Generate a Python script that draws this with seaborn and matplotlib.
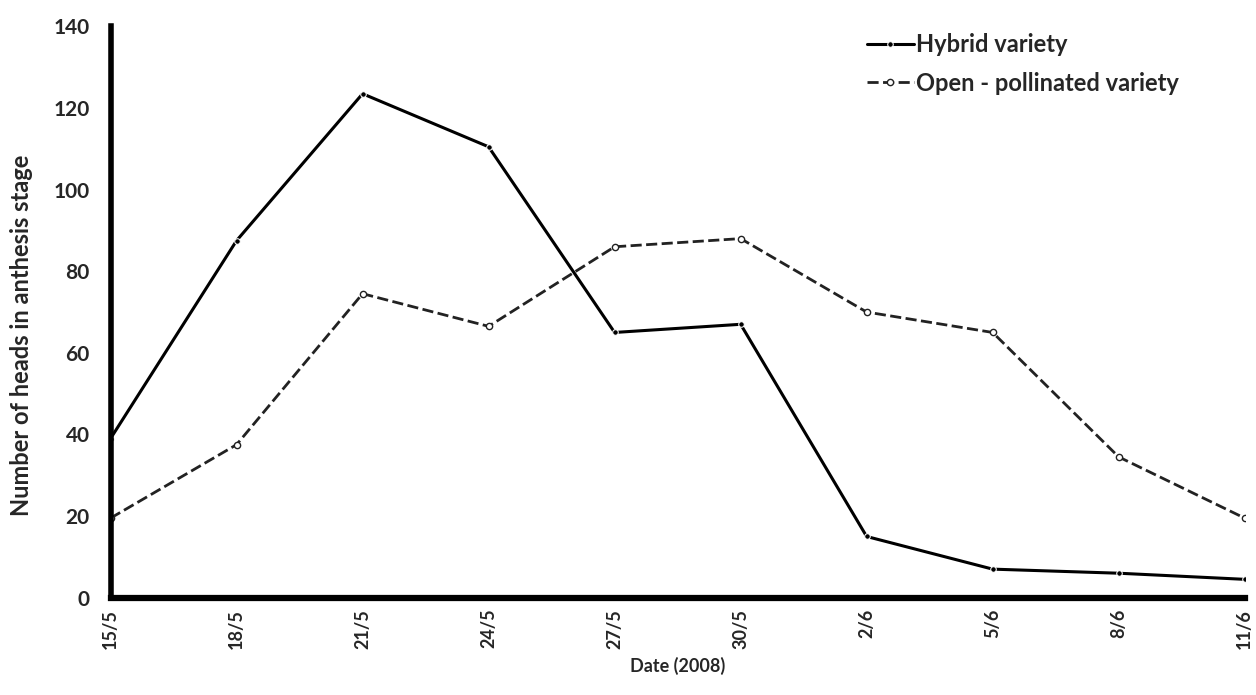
import numpy as np
import pandas as pd
import matplotlib.pyplot as plt
import seaborn as sns

dates = ['15/5', '18/5', '21/5', '24/5', '27/5', '30/5', '2/6', '5/6', '8/6', '11/6']
hybrid = [39, 87.5, 123.5, 110.5, 65, 67, 15, 7, 6, 4.5]
open_pollinated = [19.5, 37.5, 74.5, 66.5, 86, 88, 70, 65, 34.5, 19.5]

df = pd.DataFrame({'pos': range(len(dates)), 'date': dates,
                   'hybrid': hybrid, 'open': open_pollinated})

sns.set_style('white')
plt.rcParams['font.family'] = ['Lato', 'DejaVu Sans']

fig = plt.figure(figsize=(12.56, 6.95), dpi=100)
ax = fig.add_axes([0.088, 0.14, 0.903, 0.822])

sns.lineplot(data=df, x='pos', y='hybrid', ax=ax, color='black', lw=2.2,
             marker='o', markersize=4, label='Hybrid variety')
sns.lineplot(data=df, x='pos', y='open', ax=ax, color='#222222', lw=2,
             linestyle=(0, (4, 1.6)), marker='o', markersize=4.5,
             markerfacecolor='white', markeredgecolor='#222222', markeredgewidth=1,
             label='Open - pollinated variety')

ax.set_xlim(0, len(dates) - 1)
ax.set_ylim(0, 140)
ax.set_xticks(range(len(dates)))
ax.set_xticklabels(dates, rotation=90, fontsize=13, fontweight='bold')
ax.set_yticks(range(0, 141, 20))
ax.set_yticklabels([str(v) for v in range(0, 141, 20)], fontsize=15, fontweight='bold')
ax.tick_params(axis='x', direction='out', length=5, width=3, pad=3)
ax.tick_params(axis='y', length=0, pad=15)

for s in ['top', 'right']:
    ax.spines[s].set_visible(False)
ax.spines['left'].set_linewidth(4)
ax.spines['bottom'].set_linewidth(4.5)
for s in ['left', 'bottom']:
    ax.spines[s].set_color('black')

ax.set_xlabel('Date (2008)', fontsize=13, fontweight='bold', labelpad=6)
ax.set_ylabel('Number of heads in anthesis stage', fontsize=17, fontweight='bold', labelpad=8)
ax.yaxis.set_label_coords(-0.068, 0.46)

leg = ax.legend(loc='upper left', bbox_to_anchor=(0.648, 1.025), frameon=False,
                prop={'weight': 'bold', 'size': 17}, handlelength=2.0,
                handletextpad=0.1, labelspacing=0.65)

fig.savefig('out.png', dpi=100)
